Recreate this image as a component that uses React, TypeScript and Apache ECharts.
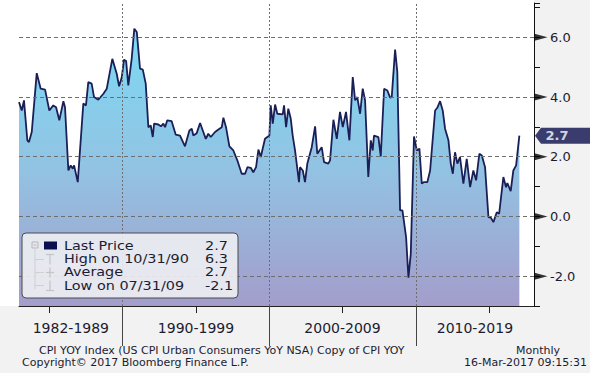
import React, { useEffect, useRef } from 'react';
import * as echarts from 'echarts';

// Decimal-year dates and CPI YoY values (%)
const dates = [
  1982.92, 1983.11, 1983.26, 1983.49, 1983.6, 1983.79, 1984.13, 1984.4, 1984.7, 1984.99,
  1985.26, 1985.45, 1985.67, 1985.95, 1986.06, 1986.29, 1986.45, 1986.59, 1986.68, 1986.93,
  1987.31, 1987.49, 1987.65, 1987.88, 1988.04, 1988.33, 1988.68, 1988.91, 1989.29, 1989.59,
  1989.75, 1989.93, 1990.09, 1990.23, 1990.38, 1990.61, 1990.79, 1990.96, 1991.18, 1991.37,
  1991.57, 1991.75, 1991.91, 1992.05, 1992.14, 1992.43, 1992.61, 1992.77, 1992.89, 1993.04,
  1993.34, 1993.62, 1993.91, 1994.25, 1994.55, 1994.71, 1994.82, 1995.05, 1995.28, 1995.5,
  1995.67, 1995.84, 1996.01, 1996.3, 1996.53, 1996.76, 1996.87, 1997.05, 1997.28, 1997.55,
  1997.82, 1998.12, 1998.35, 1998.51, 1998.74, 1998.91, 1999.1, 1999.26, 1999.42, 1999.71,
  2000.01, 2000.1, 2000.24, 2000.4, 2000.55, 2000.92, 2001.01, 2001.15, 2001.3, 2001.47,
  2001.6, 2001.76, 2002.03, 2002.1, 2002.29, 2002.44, 2002.6, 2002.9, 2003.13, 2003.28,
  2003.58, 2003.74, 2004.03, 2004.15, 2004.38, 2004.61, 2004.83, 2005.02, 2005.24, 2005.47,
  2005.7, 2005.86, 2006.01, 2006.2, 2006.38, 2006.54, 2006.76, 2006.93, 2007.06, 2007.15,
  2007.45, 2007.61, 2007.84, 2008.06, 2008.25, 2008.36, 2008.59, 2008.74, 2008.93, 2009.09,
  2009.34, 2009.5, 2009.66, 2009.88, 2010.07, 2010.25, 2010.41, 2010.57, 2010.79, 2010.98,
  2011.32, 2011.47, 2011.66, 2011.84, 2012.0, 2012.23, 2012.39, 2012.53, 2012.68, 2012.84,
  2013.02, 2013.25, 2013.48, 2013.71, 2013.93, 2014.12, 2014.34, 2014.51, 2014.73, 2014.96,
  2015.12, 2015.3, 2015.53, 2015.69, 2015.98, 2016.16, 2016.25, 2016.48, 2016.66, 2016.85,
  2017.07,
];
const cpi = [
  3.83, 3.55, 3.89, 2.55, 2.49, 2.83, 4.8, 4.28, 4.25, 3.55,
  3.72, 3.66, 3.22, 3.86, 3.66, 1.54, 1.71, 1.6, 1.71, 1.15,
  3.78, 3.72, 4.5, 4.45, 4.0, 3.91, 4.11, 4.28, 5.28, 4.78,
  4.36, 4.65, 5.25, 5.21, 4.39, 5.28, 6.29, 6.18, 4.95, 4.92,
  4.45, 2.99, 3.05, 2.66, 3.11, 3.08, 3.02, 3.11, 2.99, 3.22,
  3.19, 2.74, 2.71, 2.35, 2.88, 2.94, 2.71, 2.79, 3.13, 2.83,
  2.6, 2.77, 2.66, 2.83, 2.91, 2.99, 3.31, 2.99, 2.35, 2.21,
  1.88, 1.43, 1.43, 1.65, 1.63, 1.48, 1.65, 2.24, 1.99, 2.6,
  2.71, 3.72, 3.11, 3.75, 3.44, 3.42, 3.72, 2.99, 3.61, 3.27,
  2.71, 2.21, 1.15, 1.65, 1.54, 1.15, 1.77, 2.32, 3.02, 2.1,
  2.32, 1.82, 1.77, 1.88, 3.24, 2.6, 3.5, 2.99, 3.5, 2.55,
  4.67, 3.89, 4.0, 3.44, 4.28, 3.89, 1.32, 2.55, 2.21, 2.71,
  2.66, 2.01, 4.28, 4.22, 3.98, 4.0, 5.59, 4.84, 0.2, 0.2,
  -0.69, -2.05, -1.25, 2.68, 2.21, 2.27, 1.1, 1.15, 1.15, 1.54,
  3.55, 3.64, 3.86, 3.55, 2.94, 2.55, 1.77, 1.43, 2.15, 1.77,
  1.99, 1.1, 1.93, 0.98, 1.54, 1.21, 2.1, 2.04, 1.65, -0.02,
  -0.04, -0.19, 0.14, 0.09, 1.32, 0.98, 1.12, 0.85, 1.54, 1.71,
  2.71,
];

const yMajorTicks = [-2, 0, 2, 4, 6];
const decadeBounds = [1990, 2000, 2010];
const decadeLabels = ['1982-1989', '1990-1999', '2000-2009', '2010-2019'];
const minorXTicks = [1985, 1995, 2005, 2015];
const lastPrice = 2.7;
const legendLabels = ['Last Price', 'High on 10/31/90', 'Average', 'Low on 07/31/09'];
const legendValues = ['2.7', '6.3', '2.7', '-2.1'];
const footerTitle = 'CPI YOY Index (US CPI Urban Consumers YoY NSA) Copy of CPI YOY';
const footerFreq = 'Monthly';
const footerCopyright = 'Copyright\u00a9 2017 Bloomberg Finance L.P.';
const footerStamp = '16-Mar-2017 09:15:31';

const X_MIN = 1982.92;
const X_MAX = 2018.07;
const Y_MIN = -3;
const Y_MAX = 7.15;

const FONT = 'DejaVu Sans';
const TEXT = '#1c1c30';
const LZ = 100;

export default function App() {
  const ref = useRef<HTMLDivElement>(null);

  useEffect(() => {
    if (!ref.current) return;
    const chart = echarts.init(ref.current, undefined, { renderer: 'svg' });
    const series = dates.map((d, i) => [d, cpi[i]]);
    const bounds = [X_MIN, ...decadeBounds, X_MAX];
    const centers = decadeLabels.map((_, i) => (bounds[i] + bounds[i + 1]) / 2);

    const legendChildren: any[] = [
      {
        type: 'rect', z: LZ,
        shape: { x: 0, y: 0, width: 216, height: 65, r: 4 },
        style: { fill: 'rgba(238,238,243,0.9)', stroke: '#4a4a4a', lineWidth: 1 },
      },
      { type: 'rect', z: LZ + 1, shape: { x: 10, y: 9, width: 6, height: 6 }, style: { fill: 'none', stroke: '#b8b8b8', lineWidth: 1 } },
      { type: 'line', z: LZ + 1, shape: { x1: 11.5, y1: 12, x2: 14.5, y2: 12 }, style: { stroke: '#b8b8b8', lineWidth: 1 } },
      { type: 'line', z: LZ + 1, shape: { x1: 13, y1: 15, x2: 13, y2: 56 }, style: { stroke: '#d0d0d0', lineWidth: 1 } },
      { type: 'rect', z: LZ + 1, shape: { x: 22, y: 8.5, width: 13, height: 8 }, style: { fill: '#0b0f4f' } },
    ];
    [26.5, 39.5, 52.5].forEach((yy, k) => {
      legendChildren.push({ type: 'line', z: LZ + 1, shape: { x1: 13, y1: yy, x2: 22, y2: yy }, style: { stroke: '#d0d0d0', lineWidth: 1 } });
      legendChildren.push({ type: 'line', z: LZ + 1, shape: { x1: 28, y1: yy - 5, x2: 28, y2: yy + 5 }, style: { stroke: '#c4c4c4', lineWidth: 1.2 } });
      const cap = k === 0 ? yy - 5 : k === 2 ? yy + 5 : yy;
      legendChildren.push({ type: 'line', z: LZ + 1, shape: { x1: 24, y1: cap, x2: 32, y2: cap }, style: { stroke: '#c4c4c4', lineWidth: 1.2 } });
    });
    legendLabels.forEach((lab, i) => {
      const yy = 13 + i * 13.2;
      legendChildren.push({
        type: 'text', z: LZ + 2, x: 42, y: yy, scaleX: 1.2,
        style: { text: lab, fill: TEXT, font: `12px "${FONT}"`, textVerticalAlign: 'middle', textAlign: 'left' },
      });
      legendChildren.push({
        type: 'text', z: LZ + 2, x: 183, y: yy, scaleX: 1.2,
        style: { text: legendValues[i], fill: TEXT, font: `12px "${FONT}"`, textVerticalAlign: 'middle', textAlign: 'left' },
      });
    });

    chart.setOption({
      animation: false,
      backgroundColor: 'transparent',
      textStyle: { fontFamily: FONT },
      grid: { left: 19, right: 56, top: 3, bottom: 67, containLabel: false },
      xAxis: [
        {
          type: 'value', min: X_MIN, max: X_MAX, position: 'bottom',
          axisLine: { show: true, onZero: false, lineStyle: { color: '#222', width: 1 } },
          axisTick: { show: true, customValues: minorXTicks, length: 7, lineStyle: { color: '#222' } },
          axisLabel: { show: false },
          splitLine: { show: false },
        },
        {
          type: 'value', min: X_MIN, max: X_MAX, position: 'bottom',
          axisLine: { show: false, onZero: false },
          axisTick: { show: true, customValues: decadeBounds, length: 40, lineStyle: { color: '#444' } },
          axisLabel: {
            show: true, customValues: centers, margin: 15, fontSize: 14, color: TEXT, fontFamily: FONT,
            formatter: (v: number) => {
              const idx = centers.findIndex((c) => Math.abs(c - v) < 0.01);
              return idx >= 0 ? decadeLabels[idx] : '';
            },
          },
          splitLine: { show: false },
        },
      ],
      yAxis: {
        type: 'value', position: 'right', min: Y_MIN, max: Y_MAX, interval: 1,
        axisLine: { show: true, onZero: false, lineStyle: { color: '#111', width: 1 } },
        axisTick: { show: true, inside: false, length: 6, lineStyle: { color: '#111' } },
        axisLabel: {
          show: true, margin: 16, fontSize: 13, color: TEXT, fontFamily: FONT,
          formatter: (v: number) => (yMajorTicks.includes(v) ? v.toFixed(1) : ''),
        },
        splitLine: { show: false },
      },
      series: [
        {
          type: 'line',
          data: series,
          showSymbol: false,
          symbol: 'none',
          lineStyle: { color: '#1b1f58', width: 1.8 },
          areaStyle: {
            origin: 'start',
            opacity: 1,
            color: new echarts.graphic.LinearGradient(0, 0, 0, 1, [
              { offset: 0, color: '#7cdaf4' },
              { offset: 0.5, color: '#92c3e3' },
              { offset: 1, color: '#a39dcb' },
            ]),
          },
          markLine: {
            silent: true,
            symbol: 'none',
            label: { show: false },
            z: 5,
            data: [
              ...yMajorTicks.map((v) => ({ yAxis: v, lineStyle: { type: [4, 3], color: '#6e6e6e', width: 1 } })),
              ...decadeBounds.map((v) => ({ xAxis: v, lineStyle: { type: [2, 2], color: '#6e6e6e', width: 1 } })),
            ],
          },
        },
        {
          type: 'scatter',
          data: yMajorTicks.map((v) => [X_MAX, v]),
          symbol: 'triangle',
          symbolSize: [7, 13],
          symbolRotate: -90,
          symbolOffset: [7, 0],
          itemStyle: { color: '#000' },
          clip: false,
          silent: true,
          z: 10,
        },
        {
          type: 'scatter',
          data: [[X_MAX, lastPrice]],
          symbol: 'path://M0,8 L6,0 L56,0 L56,16 L6,16 Z',
          symbolSize: [56, 16],
          symbolOffset: [29, 0],
          itemStyle: { color: '#0a0e4b' },
          clip: false,
          silent: true,
          z: 11,
          label: {
            show: true, position: 'inside', offset: [-6, 0], formatter: String(lastPrice.toFixed(1)),
            color: '#ffffff', fontSize: 13, fontWeight: 'bold', fontFamily: FONT,
          },
        },
      ],
      graphic: [
        {
          type: 'rect', z: -10, silent: true,
          shape: { x: 0, y: 0, width: 534, height: 306 },
          style: { fill: '#ffffff' },
        },
        { type: 'group', x: 22, y: 233, z: LZ, children: legendChildren },
        {
          type: 'text', x: 39, y: 350, z: LZ,
          style: { text: footerTitle, fill: TEXT, font: `11px "${FONT}"`, textVerticalAlign: 'middle' },
        },
        {
          type: 'text', x: 516, y: 350, z: LZ,
          style: { text: footerFreq, fill: TEXT, font: `11px "${FONT}"`, textVerticalAlign: 'middle' },
        },
        {
          type: 'text', x: 22, y: 362, z: LZ,
          style: { text: footerCopyright, fill: TEXT, font: `11px "${FONT}"`, textVerticalAlign: 'middle' },
        },
        {
          type: 'text', x: 587, y: 362, z: LZ,
          style: { text: footerStamp, fill: TEXT, font: `11px "${FONT}"`, textVerticalAlign: 'middle', textAlign: 'right' },
        },
      ],
    });
    return () => chart.dispose();
  }, []);

  return (
    <div
      ref={ref}
      style={{ position: 'fixed', left: 0, top: 0, width: 590, height: 373, background: '#f2f2f2' }}
    />
  );
}
